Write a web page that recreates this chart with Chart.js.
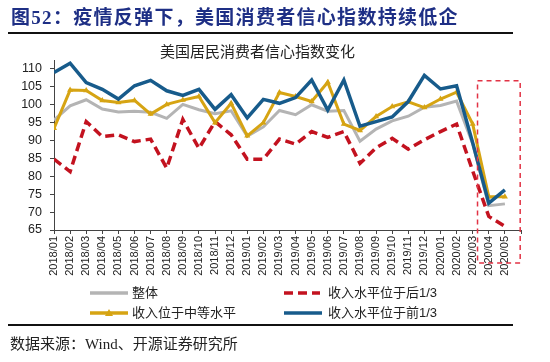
<!DOCTYPE html>
<html>
<head>
<meta charset="utf-8">
<script src="https://cdn.jsdelivr.net/npm/chart.js@4"></script>
<style>
body{margin:0;background:#fff;}
#wrap{position:relative;width:550px;height:362px;overflow:hidden;font-family:"Liberation Sans","Noto Sans CJK SC",sans-serif;}
#myChart{position:absolute;left:0;top:0;}
.t{position:absolute;white-space:nowrap;}
#mainTitle{left:11px;top:2px;font-size:19px;font-weight:700;color:#1E2F85;letter-spacing:1.3px;font-family:"Liberation Serif","Noto Sans CJK SC",serif;}
#subTitle{left:160px;top:40px;font-size:15px;color:#222;}
#source{left:10px;top:332px;font-size:15px;color:#222;font-family:"Liberation Serif","Noto Sans CJK SC",serif;}
.rule{position:absolute;left:8px;width:505px;height:1.5px;background:#111;}
</style>
</head>
<body>
<div id="wrap">
  <canvas id="myChart" width="550" height="362"></canvas>
  <div class="t" id="mainTitle">图52：疫情反弹下，美国消费者信心指数持续低企</div>
  <div class="rule" style="top:32px"></div>
  <div class="t" id="subTitle">美国居民消费者信心指数变化</div>
  <div class="rule" style="top:324px"></div>
  <div class="t" id="source">数据来源：Wind、开源证券研究所</div>
</div>
<script>
const months=['2018/01','2018/02','2018/03','2018/04','2018/05','2018/06','2018/07','2018/08','2018/09','2018/10','2018/11','2018/12',
    '2019/01','2019/02','2019/03','2019/04','2019/05','2019/06','2019/07','2019/08','2019/09','2019/10','2019/11','2019/12',
    '2020/01','2020/02','2020/03','2020/04','2020/05'];

const overall=[95.7,99.7,101.4,98.8,98.0,98.2,97.9,96.2,100.1,98.6,97.5,98.3,91.2,93.8,98.4,97.2,100.0,98.2,98.4,89.8,93.2,95.5,96.8,99.3,99.8,101.0,89.1,71.8,72.3];
const bottomThird=[84.8,81.3,95.3,91.1,91.6,89.7,90.4,82.3,95.9,87.8,95.3,91.6,84.8,84.8,90.4,89.0,92.5,90.9,92.5,83.6,88.0,90.6,87.6,90.2,92.5,94.6,81.5,68.8,66.0];
const middleIncome=[93.4,104.1,104.0,101.2,100.6,101.2,97.4,100.1,101.3,102.3,95.0,100.4,91.3,95.0,103.4,102.3,100.9,106.3,94.6,92.8,96.7,99.5,100.8,99.2,101.6,103.5,94.6,74.3,74.3];
const topThird=[109.0,111.6,106.2,104.3,101.6,105.3,106.8,103.9,102.6,104.3,98.7,102.8,96.3,101.5,100.4,102.0,106.9,98.5,106.9,94.0,95.3,96.6,100.9,108.2,104.4,105.3,89.4,72.5,76.2];

const yTicks=[65,70,75,80,85,90,95,100,105,110];

// highlighted span (in axis units) for the dashed box
const boxFrom=26.3, boxTo=28.95, boxTop=106.7;

const GRAY='#B4B4B4', RED='#C3121F', GOLD='#D6A413', BLUE='#175B8B';

function toPoints(arr)
{
    return arr.map(function(v,i){ return {x:i,y:v}; });
}

// legend + dashed box, drawn by hand to keep the 2x2 layout
const extras={
    id:'extras',
    afterDatasetsDraw:function(chart)
    {
        var ctx=chart.ctx;
        var x=chart.scales.x, y=chart.scales.y;

        var l=x.getPixelForValue(boxFrom), r=x.getPixelForValue(boxTo);
        var t=y.getPixelForValue(boxTop), b=chart.chartArea.bottom+33;
        ctx.save();
        ctx.strokeStyle='#E23345';
        ctx.lineWidth=1.5;
        ctx.setLineDash([5,4]);
        ctx.strokeRect(l,t,r-l,b-t);
        ctx.restore();

        var items=[
            {label:'整体',color:GRAY,dash:[],x:90,y:293,w:38,tx:132},
            {label:'收入水平位于后1/3',color:RED,dash:[9,5],x:284,y:293,w:36,tx:328},
            {label:'收入位于中等水平',color:GOLD,dash:[],x:90,y:313,w:38,tx:132,tri:true},
            {label:'收入水平位于前1/3',color:BLUE,dash:[],x:284,y:313,w:38,tx:328}
        ];
        ctx.save();
        items.forEach(function(it){
            ctx.strokeStyle=it.color;
            ctx.lineWidth=3.5;
            ctx.setLineDash(it.dash);
            ctx.beginPath();
            ctx.moveTo(it.x,it.y);
            ctx.lineTo(it.x+it.w,it.y);
            ctx.stroke();
            if(it.tri)
            {
                ctx.fillStyle=it.color;
                ctx.beginPath();
                ctx.moveTo(it.x+it.w/2,it.y-4);
                ctx.lineTo(it.x+it.w/2+4,it.y+3);
                ctx.lineTo(it.x+it.w/2-4,it.y+3);
                ctx.closePath();
                ctx.fill();
            }
            ctx.setLineDash([]);
            ctx.fillStyle='#222';
            ctx.font='13px "Liberation Sans","Noto Sans CJK SC"';
            ctx.textBaseline='middle';
            ctx.fillText(it.label,it.tx,it.y);
        });
        ctx.restore();
    }
};

document.addEventListener('DOMContentLoaded',function()
{
    var ctx=document.getElementById('myChart').getContext('2d');

    window.myChart=new Chart(ctx,{
        type:'line',
        data:{
            datasets:[
                {
                    data:toPoints(topThird),
                    label:'收入水平位于前1/3',
                    borderColor:BLUE,
                    backgroundColor:BLUE,
                    borderWidth:3.5,
                    pointRadius:0,
                    fill:false,
                    order:0
                },
                {
                    data:toPoints(middleIncome),
                    label:'收入位于中等水平',
                    borderColor:GOLD,
                    backgroundColor:GOLD,
                    borderWidth:3,
                    pointStyle:'triangle',
                    pointRadius:3.5,
                    pointBorderWidth:0,
                    pointBackgroundColor:GOLD,
                    fill:false,
                    order:1
                },
                {
                    data:toPoints(overall),
                    label:'整体',
                    borderColor:GRAY,
                    backgroundColor:GRAY,
                    borderWidth:3,
                    pointRadius:0,
                    fill:false,
                    order:2
                },
                {
                    data:toPoints(bottomThird),
                    label:'收入水平位于后1/3',
                    borderColor:RED,
                    backgroundColor:RED,
                    borderWidth:3.5,
                    borderDash:[9,5],
                    pointRadius:0,
                    fill:false,
                    order:3
                }
            ]
        },
        options:{
            responsive:false,
            animation:false,
            layout:{padding:{top:60,right:29,left:0,bottom:0}},
            plugins:{
                legend:{display:false},
                title:{display:false},
                tooltip:{enabled:false}
            },
            scales:{
                x:{
                    type:'linear',
                    min:0,
                    max:months.length,
                    afterFit:function(s){ s.height=132; },
                    afterBuildTicks:function(s){
                        s.ticks=[];
                        for(var i=0;i<=months.length;i++) s.ticks.push({value:i});
                    },
                    grid:{display:true,drawOnChartArea:false,drawTicks:true,tickLength:4,color:'#444'},
                    border:{display:true,color:'#444',width:1},
                    ticks:{
                        autoSkip:false,
                        minRotation:90,
                        maxRotation:90,
                        padding:2,
                        color:'#222',
                        font:{family:'"Liberation Sans"',size:11},
                        callback:function(v){ return months[v]||''; }
                    }
                },
                y:{
                    min:65,
                    max:112.5,
                    afterFit:function(s){ s.width=54; },
                    afterBuildTicks:function(s){
                        s.ticks=yTicks.map(function(v){ return {value:v}; });
                    },
                    grid:{display:true,drawOnChartArea:false,drawTicks:true,tickLength:4,color:'#444'},
                    border:{display:true,color:'#444',width:1},
                    ticks:{
                        padding:8,
                        color:'#222',
                        font:{family:'"Liberation Sans"',size:12.5}
                    }
                }
            }
        },
        plugins:[extras]
    });
});
</script>
</body>
</html>
